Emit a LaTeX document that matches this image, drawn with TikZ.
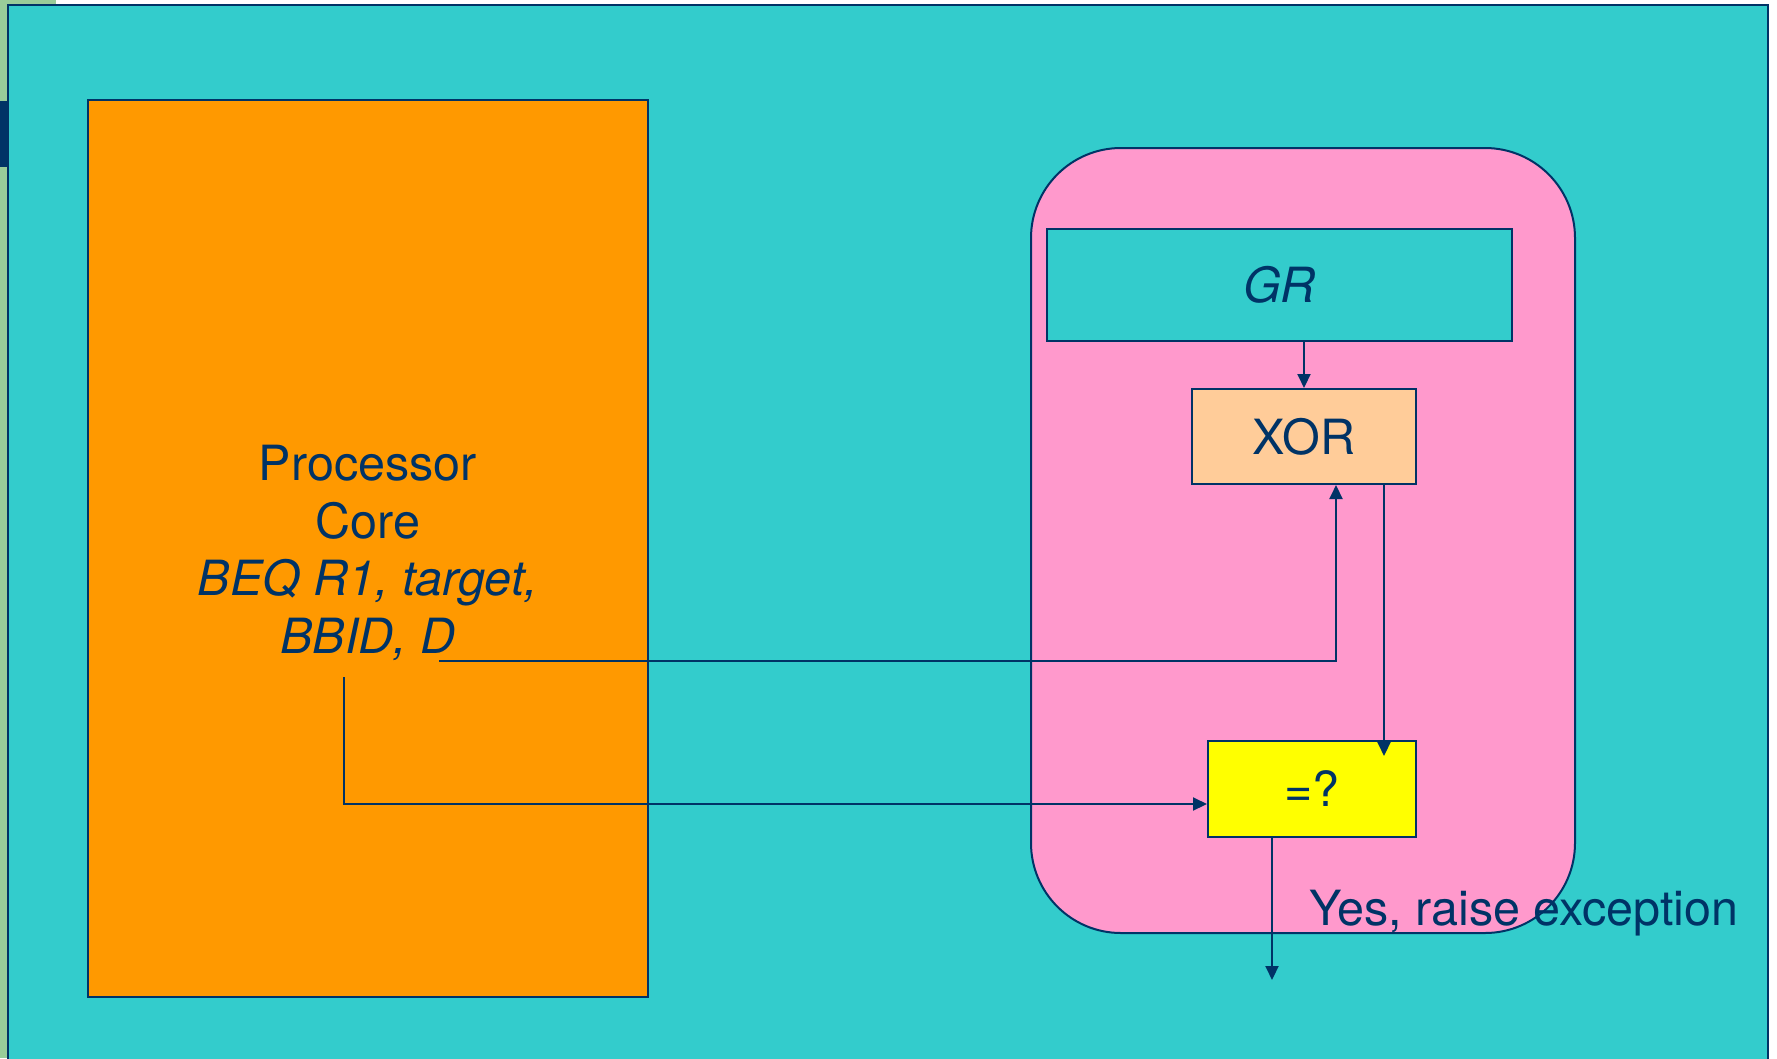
\documentclass[tikz,border=0pt]{standalone}
\usepackage{fontspec}
\setmainfont{TeX Gyre Heros}
\usetikzlibrary{arrows.meta}
\definecolor{navy}{RGB}{0,51,102}
\definecolor{teal}{RGB}{51,204,204}
\definecolor{sage}{RGB}{153,204,153}
\definecolor{coreorange}{RGB}{255,153,0}
\definecolor{unitpink}{RGB}{255,153,204}
\definecolor{peach}{RGB}{255,204,153}
\definecolor{lemon}{RGB}{255,255,0}
\tikzset{
  box/.style={draw=navy, line width=2pt, inner sep=0pt, text=navy,
              font=\fontsize{48.5}{57.5}\selectfont},
  arr/.style={draw=navy, line width=2pt,
              -{Triangle[length=14pt,width=13pt]}},
}
\begin{document}
\begin{tikzpicture}[x=1pt,y=-1pt]
\useasboundingbox (0,0) rectangle (1777,1058);
\fill[white] (0,0) rectangle (1777,1058);
% slide edge strips
\fill[sage] (0,0) rectangle (56,1058);
\fill[navy] (0,101) rectangle (8,167);
% slide background
\filldraw[fill=teal, draw=navy, line width=2pt] (8,5) rectangle (1768,1070);

% processor core
\node[box, fill=coreorange, minimum width=560pt, minimum height=897pt]
  (core) at (368,548.5) {};
\node[text=navy, font=\fontsize{48.5}{57.5}\selectfont, align=center,
      inner sep=0pt] (coretext) at (368,553)
  {Processor\\Core\\\textit{BEQ R1, target,}\\\textit{BBID, D}};
\coordinate (tailA) at (439,661);
\coordinate (tailB) at (344,677);

% checker unit
\node[box, fill=unitpink, minimum width=544pt, minimum height=785pt,
      rounded corners=90pt] (unit) at (1303,540.5) {};
\node[box, fill=teal, minimum width=465pt, minimum height=112pt]
  (gr) at (1279.5,285) {\textit{GR}};
\node[box, fill=peach, minimum width=224pt, minimum height=95pt]
  (xor) at (1304,436.5) {XOR};
\node[box, fill=lemon, minimum width=208pt, minimum height=96pt]
  (eq) at (1312,789) {=?};
\coordinate (eqin) at (1384,756);
\coordinate (out) at (1272,980);

% connectors
\draw[arr] (gr.south -| xor.north) -- (xor.north);
\draw[arr] (tailA) -| ([xshift=32pt]xor.south);
\draw[arr] (tailB) |- ([yshift=-15pt]eq.west);
\draw[arr] ([xshift=80pt]xor.south) -- (eqin);
\draw[arr] ([xshift=-40pt]eq.south) -- (out);

\node[anchor=base west, inner sep=0pt, text=navy,
      font=\fontsize{48.5}{57.5}\selectfont] (yes) at (1309,925)
  {Yes, raise exception};
\end{tikzpicture}
\end{document}
